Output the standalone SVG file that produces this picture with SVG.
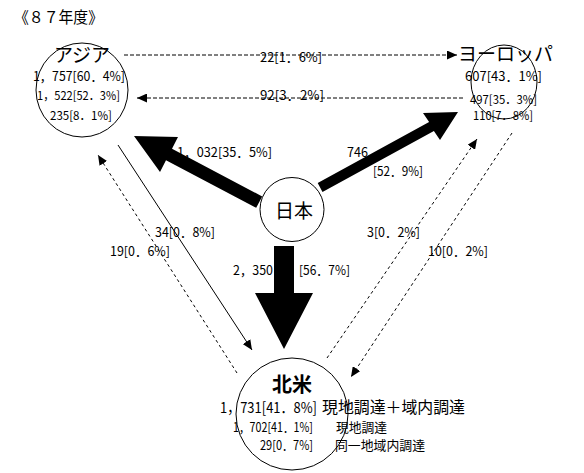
<svg xmlns="http://www.w3.org/2000/svg" width="584" height="473" viewBox="0 0 584 473">
<defs>
<style>
text{font-family:"Noto Sans CJK JP","Noto Sans CJK SC",sans-serif;fill:#000}
.s13{font-size:13px}
.s12{font-size:12px}
.nm{font-size:19px}
.ln{fill:none;stroke:#000;stroke-width:1}
.dash{stroke-dasharray:4 2}
.fine{stroke-dasharray:3 3}
.node{fill:none;stroke:#000;stroke-width:1}
.big{fill:#000}
</style>
<marker id="ah" markerUnits="userSpaceOnUse" markerWidth="10" markerHeight="9" refX="10" refY="4.5" orient="auto">
<path d="M0,0 L10,4.5 L0,9 z" fill="#000"/>
</marker>
</defs>
<rect width="584" height="473" fill="#fff"/>
<text x="14" y="23" font-size="16" textLength="89" lengthAdjust="spacingAndGlyphs">《８７年度》</text>

<g id="connectors">
<line class="ln dash" x1="124" y1="55" x2="457" y2="55" marker-end="url(#ah)"/>
<line class="ln dash" x1="463" y1="98" x2="137" y2="98" marker-end="url(#ah)"/>
<line class="ln" x1="118" y1="145" x2="252" y2="350" marker-end="url(#ah)"/>
<line class="ln fine" x1="237" y1="373" x2="98" y2="155" marker-end="url(#ah)"/>
<line class="ln fine" x1="327" y1="358" x2="477" y2="139" marker-end="url(#ah)"/>
<line class="ln fine" x1="512" y1="133" x2="351" y2="377" marker-end="url(#ah)"/>
<polygon class="big" points="134,136 178,137 172,148.8 262.2,196.4 256.2,207.8 166,160.2 160,172"/>
<polygon class="big" points="458,112 423,113 429.1,122.1 317.7,183.1 322.5,191.9 433.9,130.9 440,140"/>
<polygon class="big" points="274,246 294,246 294,293 313,293 284,349 255,293 274,293"/>
<text class="s13" x="260" y="62" textLength="62" lengthAdjust="spacingAndGlyphs">22[1．6%]</text>
<text class="s13" x="260" y="100" textLength="64" lengthAdjust="spacingAndGlyphs">92[3．2%]</text>
<text class="s13" x="177" y="157" textLength="95" lengthAdjust="spacingAndGlyphs">1，032[35．5%]</text>
<text class="s13" x="347" y="157" textLength="21" lengthAdjust="spacingAndGlyphs">746</text>
<text class="s13" x="373" y="176" textLength="50" lengthAdjust="spacingAndGlyphs">[52．9%]</text>
<text class="s13" x="233" y="275" textLength="40" lengthAdjust="spacingAndGlyphs">2，350</text>
<text class="s13" x="299" y="275" textLength="51" lengthAdjust="spacingAndGlyphs">[56．7%]</text>
<text class="s13" x="155" y="237" textLength="60" lengthAdjust="spacingAndGlyphs">34[0．8%]</text>
<text class="s13" x="110" y="256" textLength="60" lengthAdjust="spacingAndGlyphs">19[0．6%]</text>
<text class="s13" x="367" y="237" textLength="53" lengthAdjust="spacingAndGlyphs">3[0．2%]</text>
<text class="s13" x="428" y="256" textLength="60" lengthAdjust="spacingAndGlyphs">10[0．2%]</text>
</g>

<g id="asia">
<ellipse class="node" cx="82" cy="90" rx="46" ry="47"/>
<text class="nm" x="82" y="62" text-anchor="middle">アジア</text>
<text class="s13" x="33" y="81" textLength="92" lengthAdjust="spacingAndGlyphs">1，757[60．4%]</text>
<text class="s12" x="37" y="100" textLength="83" lengthAdjust="spacingAndGlyphs">1，522[52．3%]</text>
<text class="s12" x="50" y="120" textLength="62" lengthAdjust="spacingAndGlyphs">235[8．1%]</text>
</g>

<g id="europe">
<ellipse class="node" cx="504" cy="82" rx="33" ry="37"/>
<text class="nm" x="458" y="61" textLength="95" lengthAdjust="spacingAndGlyphs">ヨーロッパ</text>
<text class="s13" x="465" y="81" textLength="77" lengthAdjust="spacingAndGlyphs">607[43．1%]</text>
<text class="s12" x="470" y="104" textLength="67" lengthAdjust="spacingAndGlyphs">497[35．3%]</text>
<text class="s12" x="473" y="120" textLength="60" lengthAdjust="spacingAndGlyphs">110[7．8%]</text>
</g>

<g id="japan">
<circle class="node" cx="292" cy="209.5" r="32"/>
<text class="nm" x="294" y="218" text-anchor="middle">日本</text>
</g>

<g id="northamerica">
<circle class="node" cx="292" cy="414" r="56"/>
<text x="292" y="392" font-size="20" font-weight="bold" text-anchor="middle">北米</text>
<text x="220" y="413" font-size="15" textLength="97" lengthAdjust="spacingAndGlyphs">1，731[41．8%]</text>
<text x="322" y="413" font-size="16" textLength="143" lengthAdjust="spacingAndGlyphs">現地調達＋域内調達</text>
<text class="s13" x="233" y="432" textLength="80" lengthAdjust="spacingAndGlyphs">1，702[41．1%]</text>
<text class="s13" x="336" y="432" textLength="51" lengthAdjust="spacingAndGlyphs">現地調達</text>
<text class="s13" x="260" y="450" textLength="53" lengthAdjust="spacingAndGlyphs">29[0．7%]</text>
<text class="s13" x="335" y="450" textLength="90" lengthAdjust="spacingAndGlyphs">同一地域内調達</text>
</g>
</svg>
